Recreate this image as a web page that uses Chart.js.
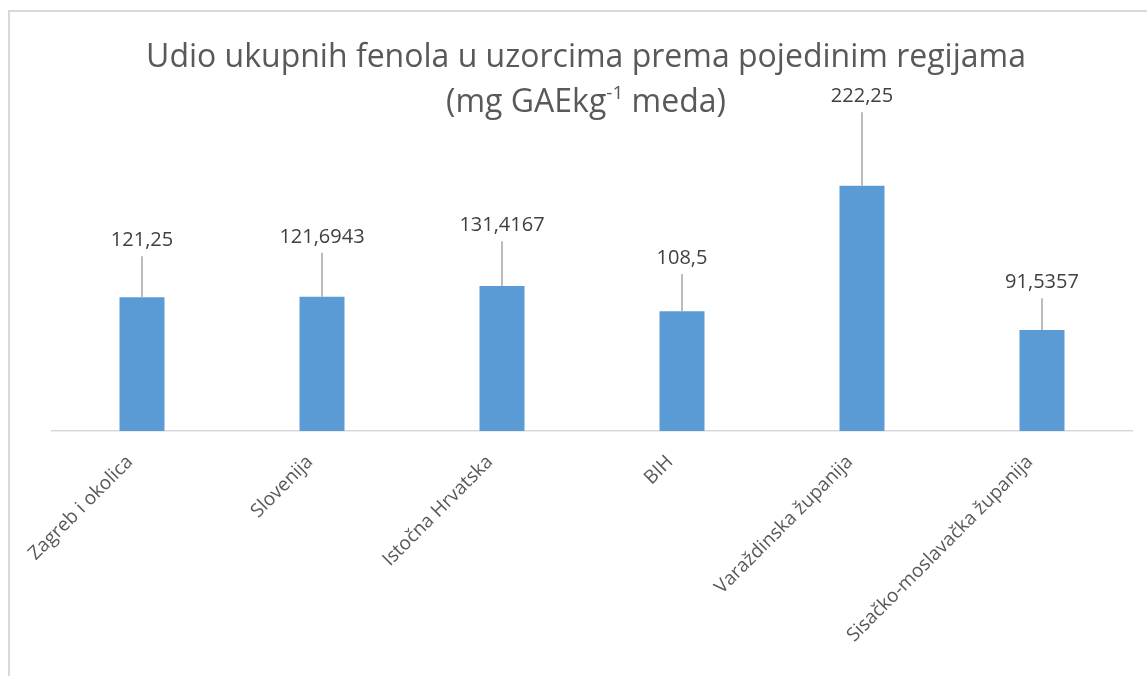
<!DOCTYPE html>
<html>
<head>
<meta charset="utf-8">
<script src="https://cdn.jsdelivr.net/npm/chart.js@4"></script>
<style>
  html, body { margin: 0; padding: 0; background: #fff; }
  #wrap { width: 1147px; height: 676px; position: relative; }
</style>
</head>
<body>
<div id="wrap"><canvas id="myChart" width="1147" height="676"></canvas></div>
<script>
const regions = ["Zagreb i okolica", "Slovenija", "Istočna Hrvatska", "BIH", "Varaždinska županija", "Sisačko-moslavačka županija"];
const means = [121.25, 121.6943, 131.4167, 108.5, 222.25, 91.5357];
const errors = [37.2, 39.9, 40.6, 33.8, 66.6, 28.8];
const valueLabels = ["121,25", "121,6943", "131,4167", "108,5", "222,25", "91,5357"];
const titleLine1 = "Udio ukupnih fenola u uzorcima prema pojedinim regijama";
const titleLine2 = ["(mg GAEkg", "-1", " meda)"];

const FONT = "'Open Sans', 'Noto Sans', sans-serif";

// frame + title drawn by hand (superscript in line 2)
const frameAndTitle = {
  id: "frameAndTitle",
  beforeDraw(chart) {
    const c = chart.ctx;
    c.save();
    c.fillStyle = "#fff";
    c.fillRect(0, 0, chart.width, chart.height);
    c.strokeStyle = "#d9d9d9";
    c.lineWidth = 2;
    c.strokeRect(9, 11, chart.width + 20, chart.height + 20);
    c.restore();
  },
  afterDraw(chart) {
    const c = chart.ctx;
    const cx = 586;
    c.save();
    c.fillStyle = "#595959";
    c.textBaseline = "alphabetic";
    c.font = "32px " + FONT;
    c.textAlign = "center";
    c.fillText(titleLine1, cx, 67);

    // second line with superscript
    const big = "32px " + FONT, small = "19px " + FONT;
    c.font = big;
    const w1 = c.measureText(titleLine2[0]).width;
    const w3 = c.measureText(titleLine2[2]).width;
    c.font = small;
    const w2 = c.measureText(titleLine2[1]).width;
    let x = cx - (w1 + w2 + w3) / 2;
    c.textAlign = "left";
    c.font = big;
    c.fillText(titleLine2[0], x, 112);
    x += w1;
    c.font = small;
    c.fillText(titleLine2[1], x, 99);
    x += w2;
    c.font = big;
    c.fillText(titleLine2[2], x, 112);
    c.restore();
  }
};

// upward error bars with the value printed above them
const errorBars = {
  id: "errorBars",
  afterDatasetsDraw(chart) {
    const c = chart.ctx;
    const y = chart.scales.y;
    const meta = chart.getDatasetMeta(0);
    c.save();
    meta.data.forEach((bar, i) => {
      const top = y.getPixelForValue(means[i] + errors[i]);
      c.strokeStyle = "#a6a6a6";
      c.lineWidth = 1.5;
      c.beginPath();
      c.moveTo(bar.x, bar.y);
      c.lineTo(bar.x, top);
      c.stroke();
      c.fillStyle = "#404040";
      c.font = "20px " + FONT;
      c.textAlign = "center";
      c.textBaseline = "alphabetic";
      c.fillText(valueLabels[i], bar.x, top - 10);
    });
    c.restore();
  }
};

const ctx = document.getElementById("myChart").getContext("2d");
const myChart = new Chart(ctx, {
  type: "bar",
  data: {
    labels: regions,
    datasets: [
      {
        data: means,
        backgroundColor: "#5b9bd5",
        borderWidth: 0,
        categoryPercentage: 1,
        barPercentage: 0.25,
      },
    ],
  },
  options: {
    responsive: false,
    animation: false,
    layout: { padding: { top: 100, left: 52, right: 15, bottom: 0 } },
    plugins: {
      legend: { display: false },
      title: { display: false },
      tooltip: { enabled: false },
    },
    scales: {
      x: {
        grid: { display: false, drawTicks: false },
        border: { display: true, color: "#d9d9d9", width: 1.5 },
        ticks: {
          minRotation: 45,
          maxRotation: 45,
          padding: 20,
          labelOffset: -12,
          color: "#595959",
          font: { family: FONT, size: 19 },
        },
        afterFit(scale) {
          scale.height = 676 - 431;
          scale.paddingLeft = 0;
          scale.paddingRight = 0;
        },
      },
      y: {
        display: false,
        min: 0,
        max: 300,
      },
    },
  },
  plugins: [frameAndTitle, errorBars],
});
</script>
</body>
</html>
